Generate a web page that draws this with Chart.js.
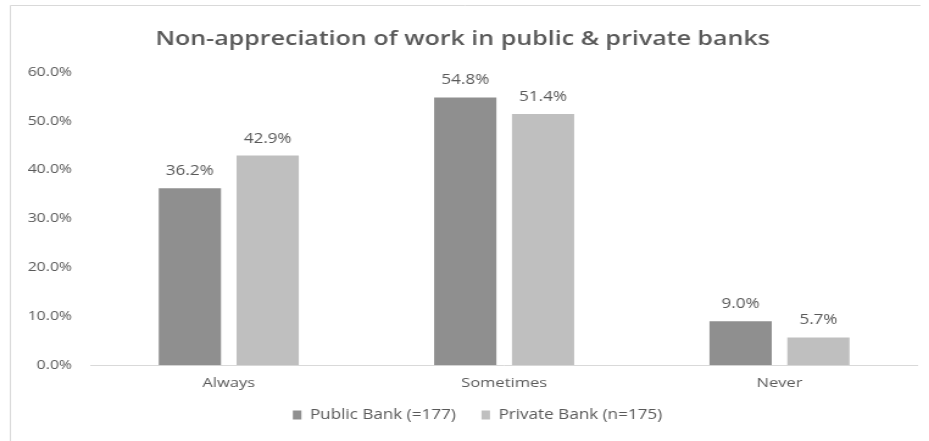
<!DOCTYPE html>
<html>
<head>
<meta charset="utf-8">
<title>Non-appreciation of work</title>
<script src="https://cdn.jsdelivr.net/npm/chart.js@4/dist/chart.umd.min.js"></script>
<style>
  html, body { margin: 0; padding: 0; background: #fff; overflow: hidden; }
  /* the chart is laid out narrower and then widened, giving the broad lettering */
  #wrap {
    position: relative;
    width: 762px;
    height: 441px;
    transform: scaleX(1.2192);
    transform-origin: 0 0;
  }
</style>
</head>
<body>
<div id="wrap"><canvas id="appreciationChart"></canvas></div>
<script>
const categories = ['Always', 'Sometimes', 'Never'];
const publicBank = [36.2, 54.8, 9.0];
const privateBank = [42.9, 51.4, 5.7];
const seriesNames = ['Public Bank (=177)', 'Private Bank (n=175)'];
const yTicks = [0, 10, 20, 30, 40, 50, 60];

const textColor = '#595959';
const fontFamily = '"Open Sans", "Noto Sans", sans-serif';

// thin frame on the left and top edges
const framePlugin = {
    id: 'frame',
    beforeDraw(chart) {
        const ctx = chart.ctx;
        ctx.save();
        ctx.strokeStyle = '#d9d9d9';
        ctx.lineWidth = 1;
        ctx.beginPath();
        ctx.moveTo(8.5, 441);
        ctx.lineTo(8.5, 5.5);
        ctx.lineTo(755, 5.5);
        ctx.stroke();
        ctx.restore();
    }
};

// nudge title and legend sideways after layout
const boxNudge = {
    id: 'boxNudge',
    afterLayout(chart) {
        const t = chart.titleBlock, l = chart.legend;
        t.left += 3.3; t.right += 3.3;
        l.left += 15.5; l.right += 15.5;
    }
};

// value labels above each bar
const barLabels = {
    id: 'barLabels',
    afterDatasetsDraw(chart) {
        const ctx = chart.ctx;
        ctx.save();
        ctx.font = '14px ' + fontFamily;
        ctx.fillStyle = textColor;
        ctx.textAlign = 'center';
        ctx.textBaseline = 'middle';
        chart.data.datasets.forEach((ds, i) => {
            chart.getDatasetMeta(i).data.forEach((bar, j) => {
                ctx.fillText(ds.data[j].toFixed(1) + '%', bar.x, bar.y - 17);
            });
        });
        ctx.restore();
    }
};

const ctx = document.getElementById('appreciationChart').getContext('2d');
const chart = new Chart(ctx, {
    type: 'bar',
    data: {
        labels: categories,
        datasets: [{
            label: seriesNames[0],
            data: publicBank,
            backgroundColor: '#8f8f8f',
            categoryPercentage: 0.565,
            barPercentage: 0.8
        }, {
            label: seriesNames[1],
            data: privateBank,
            backgroundColor: '#bfbfbf',
            categoryPercentage: 0.565,
            barPercentage: 0.8
        }]
    },
    options: {
        responsive: true,
        maintainAspectRatio: false,
        animation: false,
        layout: {
            padding: { left: 0, right: 9.7, top: 0, bottom: 9 }
        },
        plugins: {
            title: {
                display: true,
                text: 'Non-appreciation of work in public & private banks',
                color: textColor,
                font: { family: fontFamily, size: 20.5, weight: '600' },
                padding: { top: 27, bottom: 20.4 }
            },
            legend: {
                position: 'bottom',
                labels: {
                    color: textColor,
                    font: { family: fontFamily, size: 14 },
                    boxWidth: 7,
                    boxHeight: 9,
                    padding: 6.5,
                    // extra room after the first entry
                    generateLabels(chart) {
                        const items = Chart.defaults.plugins.legend.labels.generateLabels(chart);
                        items[0].text += '\u00a0'.repeat(4);
                        return items;
                    }
                }
            },
            tooltip: { enabled: false }
        },
        scales: {
            x: {
                grid: { display: false, drawTicks: false },
                border: { display: true, color: '#d9d9d9', width: 1 },
                ticks: {
                    color: textColor,
                    font: { family: fontFamily, size: 13.5 },
                    padding: 10
                }
            },
            y: {
                min: 0,
                max: 60,
                afterFit(scale) { scale.width = 74.7; },
                afterBuildTicks(scale) { scale.ticks = yTicks.map(v => ({ value: v })); },
                grid: { display: false, drawTicks: false },
                border: { display: false },
                ticks: {
                    color: textColor,
                    font: { family: fontFamily, size: 13 },
                    padding: 15.6,
                    callback: v => v.toFixed(1) + '%'
                }
            }
        }
    },
    plugins: [framePlugin, boxNudge, barLabels]
});
</script>
</body>
</html>
